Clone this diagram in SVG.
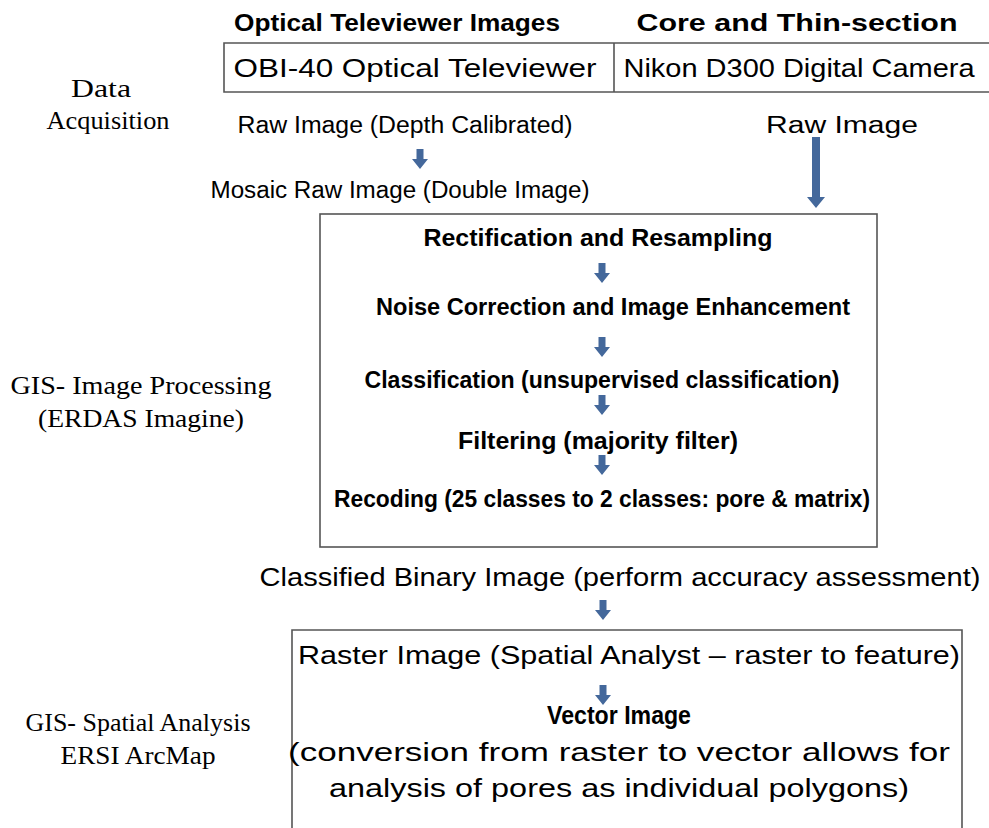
<svg xmlns="http://www.w3.org/2000/svg" width="989" height="828" viewBox="0 0 989 828">
  <style>
    .sans { font-family: "Liberation Sans", Arial, sans-serif; fill: #000; }
    .bold { font-weight: bold; }
    .serif { font-family: "Liberation Serif", "Times New Roman", serif; fill: #000; font-size: 26px; }
    .frame { fill: none; stroke: #555; stroke-width: 1.6; }
    .arrow { fill: #44689b; }
  </style>
  <defs>
    <!-- small block arrow pointing down, tip at origin -->
    <path id="dn" d="M -3.5 -20 H 3.5 V -10 H 8 L 0 0 L -8 -10 H -3.5 Z"/>
  </defs>

  <rect width="989" height="828" fill="#fff"/>

  <!-- stage labels -->
  <g id="stage-acquisition">
    <text class="serif" x="101" y="97" text-anchor="middle" textLength="60" lengthAdjust="spacingAndGlyphs">Data</text>
    <text class="serif" x="108" y="129" text-anchor="middle" textLength="123" lengthAdjust="spacingAndGlyphs">Acquisition</text>
  </g>
  <g id="stage-processing">
    <text class="serif" x="141" y="394" text-anchor="middle" textLength="261" lengthAdjust="spacingAndGlyphs">GIS- Image Processing</text>
    <text class="serif" x="141" y="427" text-anchor="middle" textLength="206" lengthAdjust="spacingAndGlyphs">(ERDAS Imagine)</text>
  </g>
  <g id="stage-spatial">
    <text class="serif" x="138" y="731" text-anchor="middle" textLength="225" lengthAdjust="spacingAndGlyphs">GIS- Spatial Analysis</text>
    <text class="serif" x="138" y="764" text-anchor="middle" textLength="155" lengthAdjust="spacingAndGlyphs">ERSI ArcMap</text>
  </g>

  <!-- acquisition sources -->
  <g id="sources">
    <text class="sans bold" x="397" y="31" font-size="24" text-anchor="middle" textLength="326" lengthAdjust="spacingAndGlyphs">Optical Televiewer Images</text>
    <text class="sans bold" x="797" y="31" font-size="24" text-anchor="middle" textLength="321" lengthAdjust="spacingAndGlyphs">Core and Thin-section</text>
    <path class="frame" d="M 995 43 H 224 V 92 H 995 M 614 43 V 92"/>
    <text class="sans" x="415" y="77" font-size="25" text-anchor="middle" textLength="363" lengthAdjust="spacingAndGlyphs">OBI-40 Optical Televiewer</text>
    <text class="sans" x="799" y="77" font-size="25" text-anchor="middle" textLength="351" lengthAdjust="spacingAndGlyphs">Nikon D300 Digital Camera</text>
  </g>

  <g id="raw-depth">
    <text class="sans" x="405" y="133" font-size="23" text-anchor="middle" textLength="335" lengthAdjust="spacingAndGlyphs">Raw Image (Depth Calibrated)</text>
  </g>
  <g id="raw-core">
    <text class="sans" x="842" y="133" font-size="23" text-anchor="middle" textLength="152" lengthAdjust="spacingAndGlyphs">Raw Image</text>
  </g>
  <g id="mosaic">
    <text class="sans" x="400" y="198" font-size="23" text-anchor="middle" textLength="379" lengthAdjust="spacingAndGlyphs">Mosaic Raw Image (Double Image)</text>
  </g>

  <!-- image processing block -->
  <g id="processing">
    <rect class="frame" x="320" y="214" width="557" height="333"/>
    <text class="sans bold" x="598" y="246" font-size="23" text-anchor="middle" textLength="349" lengthAdjust="spacingAndGlyphs">Rectification and Resampling</text>
    <text class="sans bold" x="613" y="315" font-size="23" text-anchor="middle" textLength="474" lengthAdjust="spacingAndGlyphs">Noise Correction and Image Enhancement</text>
    <text class="sans bold" x="602" y="388" font-size="23" text-anchor="middle" textLength="475" lengthAdjust="spacingAndGlyphs">Classification (unsupervised classification)</text>
    <text class="sans bold" x="598" y="449" font-size="23" text-anchor="middle" textLength="280" lengthAdjust="spacingAndGlyphs">Filtering (majority filter)</text>
    <text class="sans bold" x="602" y="507" font-size="23" text-anchor="middle" textLength="536" lengthAdjust="spacingAndGlyphs">Recoding (25 classes to 2 classes: pore &amp; matrix)</text>
  </g>

  <g id="binary">
    <text class="sans" x="620" y="586" font-size="25" text-anchor="middle" textLength="721" lengthAdjust="spacingAndGlyphs">Classified Binary Image (perform accuracy assessment)</text>
  </g>

  <!-- spatial analysis block -->
  <g id="spatial">
    <path class="frame" d="M 292 835 V 630 H 962 V 835"/>
    <text class="sans" x="629" y="664" font-size="25" text-anchor="middle" textLength="662" lengthAdjust="spacingAndGlyphs">Raster Image (Spatial Analyst – raster to feature)</text>
    <text class="sans bold" x="619" y="724" font-size="25" text-anchor="middle" textLength="144" lengthAdjust="spacingAndGlyphs">Vector Image</text>
    <text class="sans" x="619" y="761" font-size="25" text-anchor="middle" textLength="662" lengthAdjust="spacingAndGlyphs">(conversion from raster to vector allows for</text>
    <text class="sans" x="619" y="797" font-size="25" text-anchor="middle" textLength="580" lengthAdjust="spacingAndGlyphs">analysis of pores as individual polygons)</text>
  </g>

  <!-- connectors -->
  <g id="connectors" class="arrow">
    <use href="#dn" x="420" y="169"/>
    <path d="M 812 137 H 820 V 197 H 825 L 816 208 L 807 197 H 812 Z"/>
    <use href="#dn" x="602" y="283"/>
    <use href="#dn" x="602" y="357"/>
    <use href="#dn" x="602" y="415"/>
    <use href="#dn" x="602" y="475"/>
    <use href="#dn" x="603" y="620"/>
    <use href="#dn" x="603" y="705"/>
  </g>
</svg>
